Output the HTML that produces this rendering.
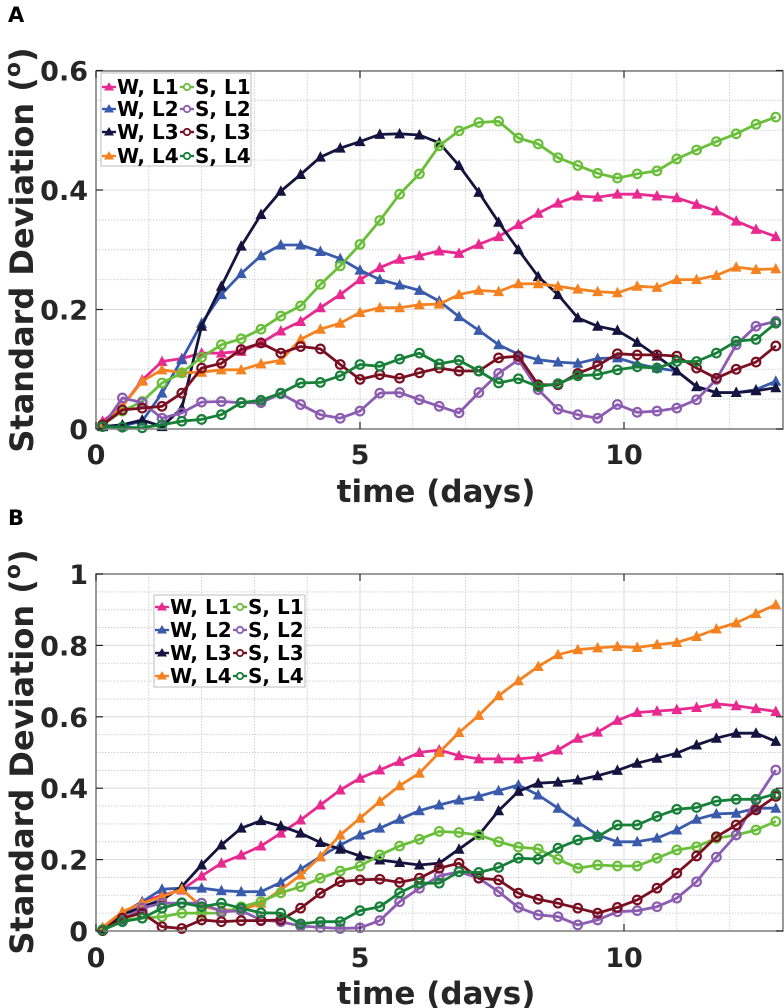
<!DOCTYPE html>
<html><head><meta charset="utf-8">
<style>
html,body{margin:0;padding:0;background:#fff;}
svg{display:block;font-family:"DejaVu Sans","Liberation Sans",sans-serif;}
</style></head>
<body>
<svg id="fig" width="784" height="1008" viewBox="0 0 784 1008" xmlns="http://www.w3.org/2000/svg"></svg>
<script>
// ---- data (sampled every 0.375 day starting at 0.125) ----
const seriesNames = ["W, L1","W, L2","W, L3","W, L4","S, L1","S, L2","S, L3","S, L4"];
const seriesColors = ["#e8298f","#3a5bab","#14143f","#f58220","#6abf3a","#8b5cb0","#7a0f22","#178038"];
const xTicks = [0,5,10];
const yTicksA = [0,0.2,0.4,0.6];
const yTickLabelsA = ["0","0.2","0.4","0.6"];
const yTicksB = [0,0.2,0.4,0.6,0.8,1];
const yTickLabelsB = ["0","0.2","0.4","0.6","0.8","1"];

const A_WL1 = [0.013,0.038,0.082,0.113,0.118,0.127,0.127,0.130,0.144,0.164,0.180,0.203,0.225,0.250,0.270,0.284,0.290,0.298,0.294,0.309,0.322,0.342,0.361,0.378,0.390,0.388,0.393,0.393,0.390,0.387,0.376,0.365,0.348,0.334,0.322];
const A_WL2 = [0.005,0.005,0.013,0.060,0.116,0.177,0.225,0.260,0.290,0.308,0.308,0.297,0.285,0.266,0.250,0.241,0.232,0.214,0.188,0.165,0.141,0.125,0.116,0.112,0.110,0.118,0.119,0.109,0.102,0.097,0.071,0.061,0.061,0.066,0.080];
const A_WL3 = [0.004,0.007,0.015,0.004,0.035,0.172,0.239,0.306,0.359,0.398,0.426,0.455,0.470,0.481,0.493,0.494,0.492,0.479,0.441,0.396,0.346,0.300,0.255,0.225,0.186,0.172,0.165,0.145,0.122,0.097,0.071,0.061,0.061,0.064,0.069];
const A_WL4 = [0.007,0.038,0.080,0.099,0.094,0.095,0.099,0.099,0.109,0.115,0.150,0.167,0.177,0.195,0.203,0.203,0.208,0.209,0.225,0.232,0.230,0.243,0.243,0.239,0.234,0.230,0.228,0.239,0.237,0.250,0.250,0.257,0.271,0.267,0.268];
const A_SL1 = [0.007,0.030,0.046,0.077,0.094,0.120,0.141,0.151,0.167,0.189,0.206,0.242,0.273,0.309,0.349,0.393,0.427,0.474,0.499,0.513,0.515,0.487,0.477,0.454,0.441,0.428,0.420,0.427,0.432,0.452,0.467,0.481,0.494,0.510,0.522];
const A_SL2 = [0.004,0.052,0.044,0.018,0.027,0.045,0.046,0.044,0.044,0.059,0.041,0.024,0.018,0.030,0.060,0.061,0.049,0.038,0.027,0.061,0.093,0.116,0.066,0.033,0.024,0.018,0.041,0.028,0.030,0.035,0.049,0.083,0.141,0.172,0.180];
const A_SL3 = [0.007,0.032,0.035,0.038,0.060,0.102,0.110,0.133,0.144,0.127,0.138,0.134,0.108,0.083,0.091,0.085,0.094,0.102,0.097,0.097,0.119,0.122,0.074,0.074,0.093,0.106,0.126,0.124,0.124,0.122,0.102,0.085,0.100,0.112,0.139];
const A_SL4 = [0.004,0.003,0.002,0.007,0.013,0.016,0.024,0.044,0.048,0.060,0.077,0.078,0.089,0.108,0.105,0.117,0.127,0.109,0.115,0.097,0.077,0.084,0.071,0.076,0.089,0.091,0.099,0.104,0.102,0.113,0.113,0.127,0.147,0.150,0.177];

const B_WL1 = [0.007,0.050,0.082,0.100,0.115,0.154,0.190,0.213,0.238,0.274,0.311,0.353,0.395,0.428,0.451,0.475,0.500,0.507,0.491,0.482,0.482,0.482,0.487,0.507,0.540,0.557,0.590,0.612,0.616,0.620,0.626,0.636,0.631,0.623,0.615];
const B_WL2 = [0.007,0.050,0.082,0.117,0.120,0.120,0.113,0.110,0.110,0.136,0.173,0.208,0.241,0.269,0.288,0.313,0.337,0.353,0.367,0.377,0.393,0.409,0.381,0.344,0.305,0.269,0.250,0.250,0.260,0.283,0.313,0.328,0.330,0.344,0.344];
const B_WL3 = [0.007,0.045,0.068,0.087,0.124,0.185,0.241,0.288,0.309,0.294,0.274,0.248,0.229,0.210,0.199,0.192,0.185,0.190,0.229,0.269,0.337,0.391,0.414,0.417,0.423,0.435,0.450,0.470,0.484,0.498,0.521,0.540,0.554,0.554,0.531];
const B_WL4 = [0.010,0.054,0.078,0.096,0.117,0.068,0.059,0.059,0.078,0.115,0.157,0.208,0.269,0.316,0.363,0.407,0.442,0.500,0.556,0.604,0.659,0.701,0.741,0.774,0.788,0.793,0.797,0.794,0.802,0.808,0.825,0.846,0.863,0.889,0.914];
const B_SL1 = [0.003,0.031,0.036,0.040,0.050,0.050,0.050,0.068,0.082,0.107,0.124,0.148,0.168,0.182,0.213,0.238,0.257,0.279,0.276,0.269,0.250,0.235,0.230,0.201,0.176,0.185,0.182,0.182,0.204,0.227,0.236,0.260,0.269,0.283,0.307];
const B_SL2 = [0.003,0.031,0.064,0.078,0.078,0.078,0.054,0.057,0.031,0.026,0.014,0.010,0.007,0.009,0.029,0.082,0.120,0.154,0.166,0.148,0.110,0.066,0.045,0.040,0.017,0.031,0.054,0.057,0.068,0.092,0.138,0.207,0.269,0.367,0.451];
const B_SL3 = [0.001,0.036,0.050,0.012,0.007,0.031,0.026,0.029,0.029,0.031,0.064,0.106,0.138,0.143,0.145,0.136,0.148,0.176,0.190,0.148,0.143,0.106,0.089,0.078,0.064,0.050,0.066,0.087,0.120,0.162,0.210,0.264,0.297,0.339,0.377];
const B_SL4 = [0.003,0.026,0.036,0.064,0.079,0.068,0.078,0.064,0.051,0.050,0.020,0.026,0.026,0.057,0.068,0.107,0.134,0.134,0.166,0.164,0.178,0.204,0.201,0.232,0.255,0.264,0.297,0.297,0.321,0.341,0.346,0.364,0.369,0.369,0.384];

const seriesA = [A_WL1,A_WL2,A_WL3,A_WL4,A_SL1,A_SL2,A_SL3,A_SL4];
const seriesB = [B_WL1,B_WL2,B_WL3,B_WL4,B_SL1,B_SL2,B_SL3,B_SL4];
const T0 = 0.125, DT = 0.375;

const NS = "http://www.w3.org/2000/svg";
const svg = document.getElementById('fig');
function mk(tag, attrs, parent){
  const e = document.createElementNS(NS, tag);
  for (const k in attrs) e.setAttribute(k, attrs[k]);
  (parent||svg).appendChild(e);
  return e;
}

const panels = [
  {id:'a', letter:'A', letterY:22, top:71, zero:429, scale:597.5, yMax:0.6, ticks:yTicksA, labels:yTickLabelsA, data:seriesA,
   xlabY:502, xtickY:464, ylabCY:250, legend:{x:101,y:73,w:150,h:93,rows:[87,109,132,156]}},
  {id:'b', letter:'B', letterY:525, top:574, zero:931, scale:357, yMax:1.0, ticks:yTicksB, labels:yTickLabelsB, data:seriesB,
   xlabY:1004, xtickY:967, ylabCY:752, legend:{x:154,y:595,w:151,h:92,rows:[607,630,653,676]}}
];
const L = 96, R = 783, PX = 52.8;
const X = t => L + PX*t;

panels.forEach(p => {
  const Y = v => p.zero - p.scale*v;
  const g = mk('g', {});
  
  

  const lt = mk('text', {x:8, y:p.letterY, 'font-size':21, 'font-weight':'bold', fill:'#000'}, g);
  lt.textContent = p.letter;
  
  

  const grid = mk('g', {}, g);
  
  
  for (let d = 1; d <= 13; d++) {
    const major = d % 5 === 0;
    mk('line', {x1:X(d), x2:X(d), y1:p.top, y2:p.zero, stroke: major?'#dcdcdc':'#cfcfcf', 'stroke-width':1, 'stroke-dasharray': major?'':'1.5,1.5'}, grid);
  }
  for (let k = 1; k * 0.05 < p.yMax + 1e-9; k++) {
    const v = k*0.05; const major = (k % 4 === 0);
    mk('line', {x1:L, x2:R, y1:Y(v), y2:Y(v), stroke: major?'#dcdcdc':'#cfcfcf', 'stroke-width':1, 'stroke-dasharray': major?'':'1.5,1.5'}, grid);
  }

  const clipId = 'clip' + p.id;
  const cp = mk('clipPath', {id:clipId}, g);
  mk('rect', {x:L, y:p.top-6, width:R-L+2, height:p.zero-p.top+12}, cp);
  const sg = mk('g', {'clip-path':'url(#'+clipId+')'}, g);
  p.data.forEach((arr, si) => {
    const col = seriesColors[si];
    const s = mk('g', {}, sg);
    
    
    const pts = arr.map((v,i) => X(T0 + DT*i).toFixed(1) + ',' + Y(v).toFixed(1)).join(' ');
    mk('polyline', {points:pts, fill:'none', stroke:col, 'stroke-width':2.8, 'stroke-linejoin':'round'}, s);
    arr.forEach((v,i) => {
      const cx = X(T0 + DT*i), cy = Y(v);
      let m;
      if (si < 4) m = mk('path', {d:`M${cx-5.5},${cy+4.5} L${cx+5.5},${cy+4.5} L${cx},${cy-6} Z`, fill:col}, s);
      else m = mk('circle', {cx:cx, cy:cy, r:4.3, fill:'none', stroke:col, 'stroke-width':2.2}, s);
      
      
    });
  });

  const ax = mk('rect', {x:L, y:p.top, width:R-L, height:p.zero-p.top, fill:'none', stroke:'#7a7a7a', 'stroke-width':1.5}, g);
  
  
  xTicks.forEach(t => {
    mk('line', {x1:X(t), x2:X(t), y1:p.zero, y2:p.zero-7, stroke:'#262626', 'stroke-width':1.2}, g);
    mk('line', {x1:X(t), x2:X(t), y1:p.top, y2:p.top+7, stroke:'#262626', 'stroke-width':1.2}, g);
    const tl = mk('text', {x:X(t), y:p.xtickY, 'text-anchor':'middle', 'font-size':27, 'font-weight':'bold', fill:'#262626'}, g);
    tl.textContent = String(t);
    
    
  });
  p.ticks.forEach((v, i) => {
    mk('line', {x1:L, x2:L+7, y1:Y(v), y2:Y(v), stroke:'#262626', 'stroke-width':1.2}, g);
    mk('line', {x1:R, x2:R-7, y1:Y(v), y2:Y(v), stroke:'#262626', 'stroke-width':1.2}, g);
    const tl = mk('text', {x:88, y:Y(v)+10, 'text-anchor':'end', 'font-size':27, 'font-weight':'bold', fill:'#262626'}, g);
    tl.textContent = p.labels[i];
    
    
  });

  const xl = mk('text', {x:436, y:p.xlabY, 'text-anchor':'middle', 'font-size':31, 'font-weight':'bold', fill:'#262626'}, g);
  xl.textContent = 'time (days)';
  
  

  const yl = mk('text', {x:0, y:0, 'text-anchor':'middle', 'font-size':32, 'font-weight':'bold', fill:'#262626',
    transform:`translate(33,${p.ylabCY}) rotate(-90)`}, g);
  
  
  const t1 = mk('tspan', {}, yl); t1.textContent = 'Standard Deviation (';
  const t2 = mk('tspan', {'font-size':22, dy:-13}, yl); t2.textContent = 'o';
  const t3 = mk('tspan', {dy:13}, yl); t3.textContent = ')';

  const lg = mk('g', {}, g);
  
  
  const Lg = p.legend;
  mk('rect', {x:Lg.x, y:Lg.y, width:Lg.w, height:Lg.h, fill:'#fff', stroke:'#bdbdbd', 'stroke-width':1}, lg);
  for (let r = 0; r < 4; r++) {
    [r, r+4].forEach((si, c) => {
      const ex = Lg.x + 1 + c*78, ey = Lg.rows[r];
      const e = mk('g', {}, lg);
      
      
      const col = seriesColors[si];
      mk('line', {x1:ex, x2:ex+14, y1:ey, y2:ey, stroke:col, 'stroke-width':2.4}, e);
      if (si < 4) mk('path', {d:`M${ex+2},${ey+3.5} L${ex+12},${ey+3.5} L${ex+7},${ey-5} Z`, fill:col}, e);
      else mk('circle', {cx:ex+7, cy:ey, r:3.2, fill:'#fff', stroke:col, 'stroke-width':1.8}, e);
      const tx = mk('text', {x:ex+15, y:ey+7, 'font-size':20, 'font-weight':'bold', fill:'#000'}, e);
      tx.textContent = seriesNames[si];
    });
  }
});
</script>
</body></html>
